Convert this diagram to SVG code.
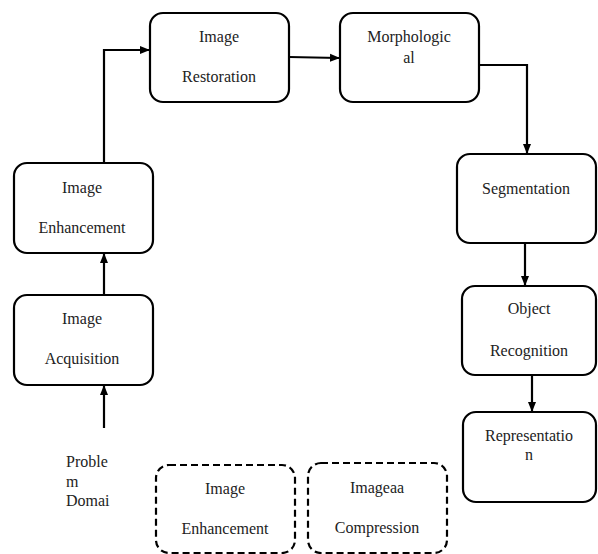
<svg xmlns="http://www.w3.org/2000/svg" width="598" height="554" viewBox="0 0 598 554">
<defs>
<marker id="ah" markerWidth="10" markerHeight="10" refX="9" refY="5" orient="auto" markerUnits="userSpaceOnUse">
<path d="M0,1 L10,5 L0,9 Z" fill="#000"/>
</marker>
</defs>
<rect width="598" height="554" fill="#fff"/>
<g id="connectors" fill="none" stroke="#000" stroke-width="2.2">
<path d="M104,163 V50 H149" marker-end="url(#ah)"/>
<path d="M104,295 V254" marker-end="url(#ah)"/>
<path d="M104,428 V386" marker-end="url(#ah)"/>
<path d="M289,57 L339,58" marker-end="url(#ah)"/>
<path d="M479,65 H527 V153" marker-end="url(#ah)"/>
<path d="M525,243 V285" marker-end="url(#ah)"/>
<path d="M532,375 V411" marker-end="url(#ah)"/>
</g>
<g font-family="Liberation Serif, serif" font-size="16" fill="#222" text-anchor="middle" dominant-baseline="central">
<g id="restoration">
<rect x="150" y="13" width="139" height="89" rx="13" fill="#fff" stroke="#000" stroke-width="2.2"/>
<text x="219" y="36">Image</text>
<text x="219" y="76">Restoration</text>
</g>
<g id="morphological">
<rect x="340" y="13" width="139" height="89" rx="13" fill="#fff" stroke="#000" stroke-width="2.2"/>
<text x="409" y="36">Morphologic</text>
<text x="409" y="57">al</text>
</g>
<g id="enhancement">
<rect x="14" y="163" width="139" height="90" rx="13" fill="#fff" stroke="#000" stroke-width="2.2"/>
<text x="82" y="187">Image</text>
<text x="82" y="227">Enhancement</text>
</g>
<g id="acquisition">
<rect x="14" y="295" width="139" height="90" rx="13" fill="#fff" stroke="#000" stroke-width="2.2"/>
<text x="82" y="318">Image</text>
<text x="82" y="358">Acquisition</text>
</g>
<g id="problem-domain" text-anchor="start">
<text x="66" y="461">Proble</text>
<text x="66" y="481">m</text>
<text x="66" y="500">Domai</text>
</g>
<g id="segmentation">
<rect x="457" y="154" width="139" height="89" rx="13" fill="#fff" stroke="#000" stroke-width="2.2"/>
<text x="526" y="188">Segmentation</text>
</g>
<g id="object-recognition">
<rect x="462" y="286" width="134" height="89" rx="13" fill="#fff" stroke="#000" stroke-width="2.2"/>
<text x="529" y="308">Object</text>
<text x="529" y="350">Recognition</text>
</g>
<g id="representation">
<rect x="463" y="412" width="133" height="90" rx="13" fill="#fff" stroke="#000" stroke-width="2.2"/>
<text x="529" y="435">Representatio</text>
<text x="529" y="454">n</text>
</g>
<g id="dashed-enhancement">
<rect x="156" y="465" width="139" height="88" rx="13" fill="#fff" stroke="#000" stroke-width="2.2" stroke-dasharray="7 4"/>
<text x="225" y="488">Image</text>
<text x="225" y="528">Enhancement</text>
</g>
<g id="compression">
<rect x="308" y="463" width="139" height="90" rx="13" fill="#fff" stroke="#000" stroke-width="2.2" stroke-dasharray="7 4"/>
<text x="377" y="487">Imageaa</text>
<text x="377" y="527">Compression</text>
</g>
</g>
</svg>
